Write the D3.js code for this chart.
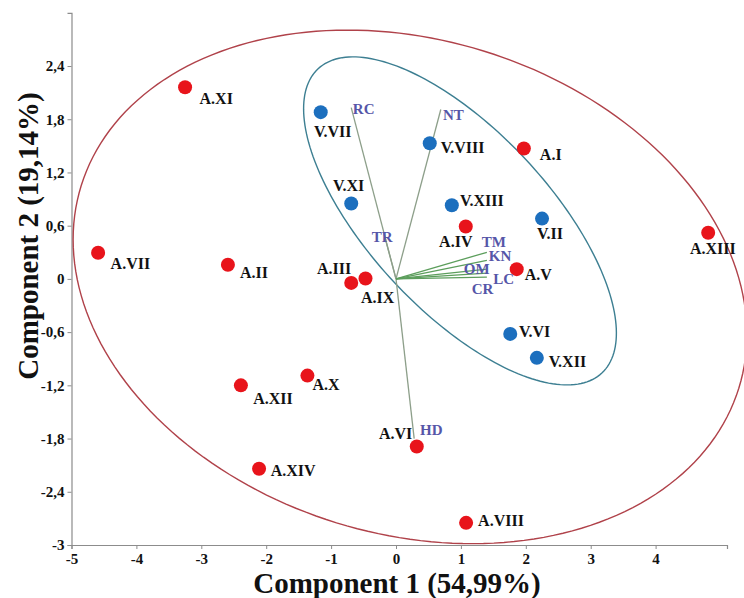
<!DOCTYPE html>
<html><head><meta charset="utf-8">
<script src="https://cdn.jsdelivr.net/npm/d3@7"></script>
<style>html,body{margin:0;padding:0;background:#fff;} svg{display:block}</style>
</head><body>
<svg id="c" width="744" height="598"></svg>
<script>
// ---------- data ----------
const aNames = ["A.I","A.II","A.III","A.IV","A.V","A.VI","A.VII","A.VIII","A.IX","A.X","A.XI","A.XII","A.XIII","A.XIV"];
const aX = [1.97,-2.59,-0.69,1.075,1.86,0.32,-4.59,1.08,-0.47,-1.365,-3.25,-2.39,4.81,-2.11];
const aY = [1.47,0.16,-0.045,0.59,0.11,-1.89,0.295,-2.75,0.005,-1.09,2.16,-1.20,0.52,-2.14];

const vNames = ["V.II","V.VI","V.VII","V.VIII","V.XI","V.XII","V.XIII"];
const vX = [2.25,1.76,-1.16,0.52,-0.69,2.17,0.86];
const vY = [0.68,-0.62,1.88,1.53,0.85,-0.89,0.83];

const loadNames = ["RC","NT","TR","HD","TM","KN","OM","LC","CR"];
const loadX = [-0.69,0.69,-0.19,0.28,1.40,1.40,1.40,1.40,1.40];
const loadY = [1.93,1.91,0.52,-1.80,0.30,0.21,0.11,0.065,0.02];
const loadGroup = ["v","v","v","v","h","h","h","h","h"];

// ellipses: centre, two conjugate semi-axis vectors (data units)
const redEllipse  = [0.216,-0.09, 5.191,-0.535, 0,-2.845];
const blueEllipse = [0.986,0.654, 2.186,-1.715, -1.014,-0.692];

const xTicks = [-5,-4,-3,-2,-1,0,1,2,3,4];
const yTicks = [-3,-2.4,-1.8,-1.2,-0.6,0,0.6,1.2,1.8,2.4];
const xTitle = "Component 1 (54,99%)";
const yTitle = "Component 2 (19,14%)";

// ---------- layout (label offsets, px) ----------
const ptLabel = {
 "A.I":["start",16,5.5],"A.II":["start",12,8],"A.III":["end",0,-14.7],"A.IV":["middle",-10,15],
 "A.V":["start",8,5.5],"A.VI":["end",-4.5,-13],"A.VII":["start",12.5,10.3],"A.VIII":["start",12,-2],
 "A.IX":["start",-4.5,19],"A.X":["start",5,9.3],"A.XI":["start",14.5,11.3],"A.XII":["start",12.3,13],
 "A.XIII":["middle",4.7,15.5],"A.XIV":["start",11.7,1.4],
 "V.II":["middle",8,14.8],"V.VI":["start",8.7,-2.8],"V.VII":["middle",12,19.3],"V.VIII":["start",11,4.4],
 "V.XI":["middle",-2.6,-18.3],"V.XIII":["start",8.2,-4.5],"V.XII":["start",11.8,3.4]
};
const ldLabel = {
 "RC":[1.6,1],"NT":[2.2,5],"TR":[-12,4],"HD":[5.8,-8.5],"TM":[-5,-10.6],
 "KN":[2,-4.3],"OM":[-23,-0.4],"LC":[6.4,5.2],"CR":[-15.2,11.2]
};

const FONT = "'Liberation Serif','Times New Roman',serif";
const svg = d3.select("#c");
const x = d3.scaleLinear().domain([-5,5.1]).range([71.5,727]);
const y = d3.scaleLinear().domain([-3,3]).range([545,12.8]);
const fmt = v => Number.isInteger(v) ? String(v) : v.toFixed(1).replace(".", ",");

// axes
const gx = svg.append("g").attr("transform", `translate(0,${y(-3)})`)
  .call(d3.axisBottom(x).tickValues(xTicks).tickFormat(fmt).tickSize(4).tickPadding(3));
const gy = svg.append("g").attr("transform", `translate(${x(-5)},0)`)
  .call(d3.axisLeft(y).tickValues(yTicks).tickFormat(fmt).tickSize(4).tickPadding(2));
[gx,gy].forEach(g=>{
  g.select(".domain").attr("stroke","#8c8c8c").attr("stroke-width",1.2);
  g.selectAll(".tick line").attr("stroke","#8c8c8c");
  g.selectAll(".tick text").attr("fill","#111").attr("font-family",FONT)
   .attr("font-weight","bold").attr("font-size",15);
});
gy.selectAll(".tick text").attr("dx",-1);
gx.selectAll(".tick text").attr("dy","0.8em");

// titles
svg.append("text").attr("x",397).attr("y",583).attr("dy","0.35em")
  .attr("text-anchor","middle").attr("font-family",FONT).attr("font-weight","bold")
  .attr("font-size",29).attr("fill","#111").text(xTitle);
svg.append("text").attr("transform","translate(28,236) rotate(-90)").attr("dy","0.35em")
  .attr("text-anchor","middle").attr("font-family",FONT).attr("font-weight","bold")
  .attr("font-size",29).attr("fill","#111").text(yTitle);

// ellipses
function ellipsePts(e){
  const n=200, pts=[];
  for(let i=0;i<n;i++){
    const t=2*Math.PI*i/n, c=Math.cos(t), s=Math.sin(t);
    pts.push([x(e[0]+e[2]*c+e[4]*s), y(e[1]+e[3]*c+e[5]*s)]);
  }
  return pts;
}
const closed = d3.line().curve(d3.curveLinearClosed);
svg.append("path").attr("d",closed(ellipsePts(redEllipse)))
  .attr("fill","none").attr("stroke","#b0424a").attr("stroke-width",1.4);
svg.append("path").attr("d",closed(ellipsePts(blueEllipse)))
  .attr("fill","none").attr("stroke","#3d7f92").attr("stroke-width",1.4);

// loading vectors
const loads = loadNames.map((n,i)=>({n,x:loadX[i],y:loadY[i],g:loadGroup[i]}));
svg.append("g").selectAll("line").data(loads).join("line")
  .attr("x1",x(0)).attr("y1",y(0)).attr("x2",d=>x(d.x)).attr("y2",d=>y(d.y))
  .attr("stroke",d=>d.g==="h"?"#5c9e5c":"#8d9f8a").attr("stroke-width",1.3);

// points
const pts = aNames.map((n,i)=>({n,x:aX[i],y:aY[i],c:"#e8141b"}))
  .concat(vNames.map((n,i)=>({n,x:vX[i],y:vY[i],c:"#1c6fbe"})));
svg.append("g").selectAll("circle").data(pts).join("circle")
  .attr("cx",d=>x(d.x)).attr("cy",d=>y(d.y)).attr("r",7).attr("fill",d=>d.c);

// point labels
svg.append("g").selectAll("text").data(pts).join("text")
  .attr("x",d=>x(d.x)+ptLabel[d.n][1]).attr("y",d=>y(d.y)+ptLabel[d.n][2])
  .attr("dy","0.35em").attr("text-anchor",d=>ptLabel[d.n][0])
  .attr("font-family",FONT).attr("font-weight","bold").attr("font-size",16)
  .attr("fill","#111").text(d=>d.n);

// loading labels
svg.append("g").selectAll("text").data(loads).join("text")
  .attr("x",d=>x(d.x)+ldLabel[d.n][0]).attr("y",d=>y(d.y)+ldLabel[d.n][1])
  .attr("dy","0.35em").attr("font-family",FONT).attr("font-weight","bold").attr("font-size",15)
  .attr("fill","#5656a8").text(d=>d.n);
</script>
</body></html>
